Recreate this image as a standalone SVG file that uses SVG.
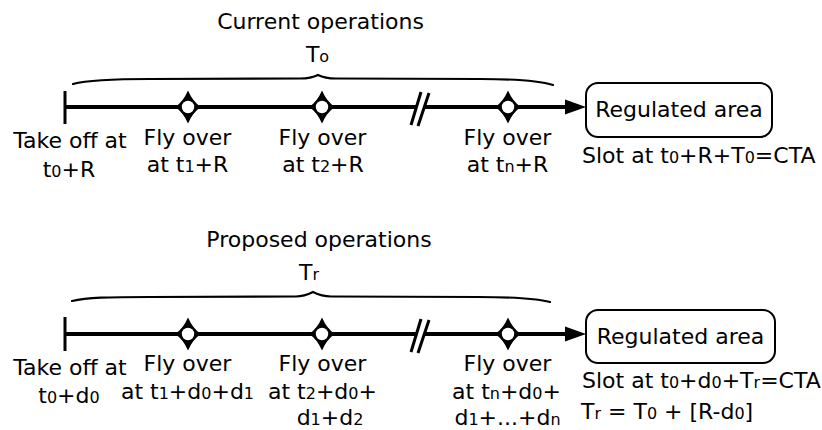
<svg xmlns="http://www.w3.org/2000/svg" width="822" height="430" viewBox="0 0 822 430">
  <style>
    text { font-family: "DejaVu Sans", "Liberation Sans", sans-serif; font-size: 22px; fill: #000; }
    .c { text-anchor: middle; }
    .s { text-anchor: start; }
    .sub { font-size: 16px; }
    .axis { stroke: #000; stroke-width: 4; fill: none; }
    .tick { stroke: #000; stroke-width: 3; fill: none; }
    .brk { stroke: #000; stroke-width: 3; fill: none; }
    .brace { stroke: #000; stroke-width: 2.2; fill: none; stroke-linecap: round; }
    .box { fill: #fff; stroke: #000; stroke-width: 2; }
  </style>
  <defs>
    <marker id="arrow" viewBox="0 -8 21 16" markerWidth="21" markerHeight="16" refX="1" refY="0" markerUnits="userSpaceOnUse" orient="auto">
      <path d="M0,-7.5 L21,0 L0,7.5 Z" fill="#000"/>
    </marker>
    <!-- waypoint: four-pointed star with an open circle -->
    <g id="wpt">
      <path d="M0,-16.5 Q5,-5 13,0 Q5,5 0,16.5 Q-5,5 -13,0 Q-5,-5 0,-16.5 Z" fill="#000"/>
      <circle r="8.5" fill="#000"/>
      <circle r="6.2" fill="#fff"/>
    </g>
  </defs>

  <!-- ===== Current operations ===== -->
  <g id="connectors-current">
    <path class="axis" d="M65,107 H416"/>
    <path class="axis" d="M424,107 H566" marker-end="url(#arrow)"/>
    <path class="brk" d="M421,92 L411,125 M429,93 L418,126"/>
    <path class="brace" d="M73,84 C88,80 110,79 150,79 L300,78.5 C309,78.5 314,77 318,75 C322,77 327,78.5 336,78.5 L480,79 C520,79 540,81 553,85"/>
  </g>

  <g id="title-current">
    <text class="c" x="320.5" y="29">Current operations</text>
    <text class="c" x="317.5" y="62">T<tspan class="sub">o</tspan></text>
  </g>

  <g id="takeoff-current">
    <line class="tick" x1="65" y1="91" x2="65" y2="124"/>
    <text class="c" x="70" y="148">Take off at</text>
    <text class="c" x="69" y="177">t<tspan class="sub">0</tspan>+R</text>
  </g>

  <g id="wp1-current">
    <use href="#wpt" x="188" y="107"/>
    <text class="c" x="187.5" y="145">Fly over</text>
    <text class="c" x="187.5" y="172">at t<tspan class="sub">1</tspan>+R</text>
  </g>

  <g id="wp2-current">
    <use href="#wpt" x="322" y="107"/>
    <text class="c" x="322.5" y="145">Fly over</text>
    <text class="c" x="323" y="172">at t<tspan class="sub">2</tspan>+R</text>
  </g>

  <g id="wpn-current">
    <use href="#wpt" x="508" y="107"/>
    <text class="c" x="507.5" y="145">Fly over</text>
    <text class="c" x="507.5" y="172">at t<tspan class="sub">n</tspan>+R</text>
  </g>

  <g id="area-current">
    <rect class="box" x="586" y="83" width="186" height="54" rx="12" ry="12"/>
    <text class="c" x="679" y="117">Regulated area</text>
    <text class="s" x="582" y="163">Slot at t<tspan class="sub">0</tspan>+R+T<tspan class="sub">0</tspan>=CTA</text>
  </g>

  <!-- ===== Proposed operations ===== -->
  <g id="connectors-proposed">
    <path class="axis" d="M65,334 H416"/>
    <path class="axis" d="M424,334 H566" marker-end="url(#arrow)"/>
    <path class="brk" d="M421,319 L411,352 M429,320 L418,353"/>
    <path class="brace" d="M72,301 C87,297.5 108,297 150,297 L296,296.5 C304,296.5 309,294 313,292 C317,294 322,296.5 331,296.5 L478,297 C518,297 537,298.5 550,302"/>
  </g>

  <g id="title-proposed">
    <text class="c" x="319" y="247">Proposed operations</text>
    <text class="c" x="309" y="280">T<tspan class="sub">r</tspan></text>
  </g>

  <g id="takeoff-proposed">
    <line class="tick" x1="65" y1="317" x2="65" y2="351"/>
    <text class="c" x="70" y="375">Take off at</text>
    <text class="c" x="69" y="403">t<tspan class="sub">0</tspan>+d<tspan class="sub">0</tspan></text>
  </g>

  <g id="wp1-proposed">
    <use href="#wpt" x="188" y="334"/>
    <text class="c" x="187.5" y="371">Fly over</text>
    <text class="c" x="187.5" y="399">at t<tspan class="sub">1</tspan>+d<tspan class="sub">0</tspan>+d<tspan class="sub">1</tspan></text>
  </g>

  <g id="wp2-proposed">
    <use href="#wpt" x="322" y="334"/>
    <text class="c" x="322.5" y="371">Fly over</text>
    <text class="c" x="322.5" y="399">at t<tspan class="sub">2</tspan>+d<tspan class="sub">0</tspan>+</text>
    <text class="c" x="330" y="425">d<tspan class="sub">1</tspan>+d<tspan class="sub">2</tspan></text>
  </g>

  <g id="wpn-proposed">
    <use href="#wpt" x="508" y="334"/>
    <text class="c" x="507.5" y="371">Fly over</text>
    <text class="c" x="506.5" y="398.5">at t<tspan class="sub">n</tspan>+d<tspan class="sub">0</tspan>+</text>
    <text class="c" x="507.5" y="425">d<tspan class="sub">1</tspan>+...+d<tspan class="sub">n</tspan></text>
  </g>

  <g id="area-proposed">
    <rect class="box" x="586" y="310" width="189" height="53" rx="12" ry="12"/>
    <text class="c" x="680.5" y="344">Regulated area</text>
    <text class="s" x="582" y="388">Slot at t<tspan class="sub">0</tspan>+d<tspan class="sub">0</tspan>+T<tspan class="sub">r</tspan>=CTA</text>
    <text class="s" x="581" y="419">T<tspan class="sub">r</tspan> = T<tspan class="sub">0</tspan> + [R-d<tspan class="sub">0</tspan>]</text>
  </g>
</svg>
